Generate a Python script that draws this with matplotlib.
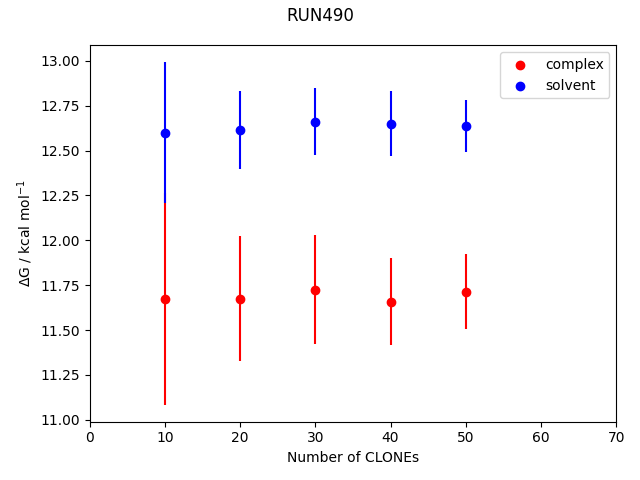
import matplotlib
matplotlib.use('Agg')
import matplotlib.pyplot as plt

clones = [10, 20, 30, 40, 50]

complex_dg = [11.675, 11.675, 11.725, 11.658, 11.714]
complex_err = [0.59, 0.347, 0.305, 0.242, 0.209]

solvent_dg = [12.600, 12.617, 12.661, 12.650, 12.639]
solvent_err = [0.392, 0.217, 0.186, 0.18, 0.145]

fig, ax = plt.subplots(figsize=(6.4, 4.8), dpi=100)

# error bars first, dots on top
ax.errorbar(clones, complex_dg, yerr=complex_err, fmt='none', ecolor='red')
ax.errorbar(clones, solvent_dg, yerr=solvent_err, fmt='none', ecolor='blue')
ax.scatter(clones, complex_dg, color='red', label='complex', zorder=3)
ax.scatter(clones, solvent_dg, color='blue', label='solvent', zorder=3)

ax.set_xlim(0, 70)
ax.set_xlabel('Number of CLONEs')
ax.set_ylabel(r'$\Delta$G / kcal mol$^{-1}$')
ax.legend(loc='upper right')
fig.suptitle('RUN490', y=0.985)
fig.tight_layout()
fig.subplots_adjust(top=0.906)
fig.savefig('out.png')
